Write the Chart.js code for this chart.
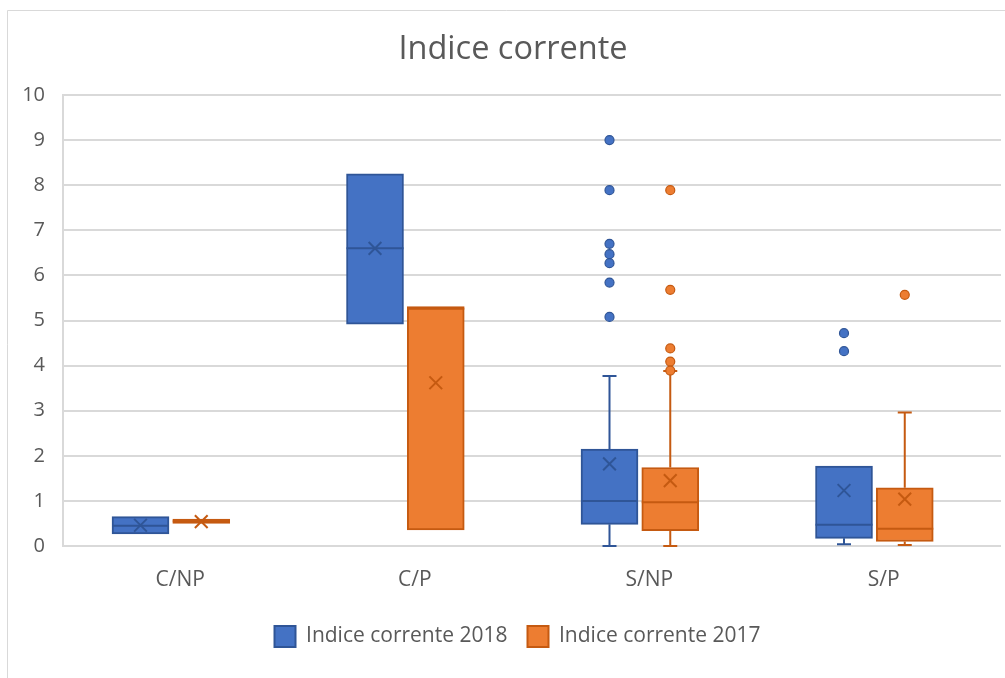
<!DOCTYPE html>
<html>
<head>
<meta charset="utf-8">
<script src="https://cdn.jsdelivr.net/npm/chart.js@4.4.1/dist/chart.umd.min.js"></script>
<style>
  html, body { margin: 0; padding: 0; background: #ffffff; }
  #c { display: block; }
</style>
</head>
<body>
<canvas id="c" width="1005" height="678"></canvas>
<script>
// ---------- DATA ----------
const categories = ['C/NP', 'C/P', 'S/NP', 'S/P'];
const seriesNames = ['Indice corrente 2018', 'Indice corrente 2017'];
const yTicks = [0, 1, 2, 3, 4, 5, 6, 7, 8, 9, 10];

// Indice corrente 2018
const min2018    = [0.27, 4.92, 0.00, 0.04];
const q1_2018    = [0.27, 4.92, 0.48, 0.17];
const median2018 = [0.45, 6.60, 1.00, 0.47];
const q3_2018    = [0.65, 8.25, 2.15, 1.77];
const max2018    = [0.65, 8.25, 3.77, 1.77];
const mean2018   = [0.46, 6.60, 1.82, 1.23];
const outliers2018 = [[], [], [9.00, 7.89, 6.70, 6.47, 6.27, 5.84, 5.08], [4.72, 4.32]];

// Indice corrente 2017
const min2017    = [0.50, 0.355, 0.00, 0.02];
const q1_2017    = [0.50, 0.355, 0.34, 0.10];
const median2017 = [0.55, 5.26, 0.97, 0.38];
const q3_2017    = [0.595, 5.31, 1.74, 1.29];
const max2017    = [0.595, 5.31, 3.88, 2.96];
const mean2017   = [0.54, 3.62, 1.45, 1.04];
const outliers2017 = [[], [], [7.89, 5.68, 4.38, 4.09, 3.89], [5.57]];

// ---------- STYLE / LAYOUT ----------
const FONT = "'Open Sans', 'Noto Sans', sans-serif";
const TEXT = '#595959';
const GRID = '#D9D9D9';
const fill2018 = '#4472C4', line2018 = '#2F5597';
const fill2017 = '#ED7D31', line2017 = '#C55A11';
const OFF2018 = -0.1695, OFF2017 = 0.0896;   // group offset within each category
const BOX_W = 57;

const series = [
  { name: seriesNames[0], min: min2018, q1: q1_2018, med: median2018, q3: q3_2018, max: max2018,
    mean: mean2018, out: outliers2018, off: OFF2018, fill: fill2018, line: line2018 },
  { name: seriesNames[1], min: min2017, q1: q1_2017, med: median2017, q3: q3_2017, max: max2017,
    mean: mean2017, out: outliers2017, off: OFF2017, fill: fill2017, line: line2017 }
];

const datasets = [];
series.forEach((s, k) => {
  datasets.push({
    type: 'bar',
    label: s.name,
    data: categories.map((c, i) => ({ x: i + s.off, y: [s.q1[i], s.q3[i]] })),
    backgroundColor: s.fill,
    borderColor: s.line,
    borderWidth: 2,
    borderSkipped: false,
    barThickness: BOX_W,
    grouped: false,
    order: 3,
    _box: k
  });
});
series.forEach((s) => {
  datasets.push({
    type: 'scatter',
    label: s.name + ' mean',
    data: categories.map((c, i) => ({ x: i + s.off, y: s.mean[i] })),
    pointStyle: 'crossRot',
    radius: 9,
    borderWidth: 2,
    borderColor: s.line,
    backgroundColor: s.line,
    order: 1
  });
  const pts = [];
  s.out.forEach((arr, i) => arr.forEach(v => pts.push({ x: i + s.off, y: v })));
  datasets.push({
    type: 'scatter',
    label: s.name + ' outliers',
    data: pts,
    pointStyle: 'circle',
    radius: 4.5,
    borderWidth: 1.2,
    borderColor: s.line,
    backgroundColor: s.fill,
    order: 2
  });
});

const frame = {
  id: 'frame',
  afterLayout(chart) {
    // Excel centres title/legend on the (wider, cropped) chart object
    chart.titleBlock.left += 4;
    chart.legend.left += 13;
  },
  beforeDraw(chart) {
    const ctx = chart.ctx;
    ctx.save();
    ctx.fillStyle = '#ffffff';
    ctx.fillRect(0, 0, chart.width, chart.height);
    ctx.strokeStyle = GRID;
    ctx.lineWidth = 1;
    ctx.beginPath();
    ctx.moveTo(7.5, chart.height + 5);
    ctx.lineTo(7.5, 10.5);
    ctx.lineTo(chart.width + 5, 10.5);
    ctx.stroke();
    ctx.restore();
  }
};

const boxParts = {
  id: 'boxParts',
  beforeDatasetsDraw(chart) {
    const ctx = chart.ctx, y = chart.scales.y;
    series.forEach((s, k) => {
      const meta = chart.getDatasetMeta(k);
      ctx.save();
      ctx.strokeStyle = s.line;
      ctx.lineWidth = 2;
      meta.data.forEach((el, i) => {
        const cx = el.x;
        const segs = [[s.q3[i], s.max[i]], [s.q1[i], s.min[i]]];
        segs.forEach(([a, b]) => {
          if (a === b) return;
          const ya = y.getPixelForValue(a), yb = y.getPixelForValue(b);
          ctx.beginPath();
          ctx.moveTo(cx, ya); ctx.lineTo(cx, yb);
          ctx.moveTo(cx - 7, yb); ctx.lineTo(cx + 7, yb);
          ctx.stroke();
        });
      });
      ctx.restore();
    });
  },
  afterDatasetDraw(chart, args) {
    const ds = chart.data.datasets[args.index];
    if (ds._box === undefined) return;
    const s = series[ds._box];
    const ctx = chart.ctx, y = chart.scales.y;
    ctx.save();
    ctx.strokeStyle = s.line;
    ctx.lineWidth = 2;
    args.meta.data.forEach((el, i) => {
      const ym = y.getPixelForValue(s.med[i]);
      ctx.beginPath();
      ctx.moveTo(el.x - el.width / 2, ym);
      ctx.lineTo(el.x + el.width / 2, ym);
      ctx.stroke();
    });
    ctx.restore();
  }
};

new Chart(document.getElementById('c'), {
  data: { datasets },
  plugins: [frame, boxParts],
  options: {
    responsive: false,
    animation: false,
    devicePixelRatio: 1,
    layout: { autoPadding: false, padding: { left: 21, right: 4, top: 0, bottom: 21 } },
    plugins: {
      title: {
        display: true,
        text: 'Indice corrente',
        color: TEXT,
        font: { family: FONT, size: 32.5, weight: 'normal' },
        padding: { top: 30, bottom: 26 }
      },
      legend: {
        position: 'bottom',
        labels: {
          filter: (item) => item.datasetIndex < 2,
          color: TEXT,
          font: { family: FONT, size: 21 },
          boxWidth: 21,
          boxHeight: 21,
          padding: 20
        }
      },
      tooltip: { enabled: false }
    },
    scales: {
      x: {
        type: 'linear',
        offset: false,
        min: -0.5,
        max: 3.5,
        afterBuildTicks: (scale) => { scale.ticks = categories.map((c, i) => ({ value: i })); },
        afterFit: (scale) => { scale.height = 60; scale.paddingLeft = 0; scale.paddingRight = 0; },
        ticks: {
          callback: (v) => categories[v] ?? '',
          color: TEXT,
          font: { family: FONT, size: 21 },
          padding: 21,
          maxRotation: 0
        },
        grid: { display: false, drawTicks: false },
        border: { display: false }
      },
      y: {
        min: 0,
        max: 10,
        afterBuildTicks: (scale) => { scale.ticks = yTicks.map(v => ({ value: v })); },
        afterFit: (scale) => { scale.width = 42; },
        ticks: {
          color: TEXT,
          font: { family: FONT, size: 20 },
          padding: 18
        },
        grid: { color: GRID, lineWidth: 2, drawTicks: false },
        border: { display: true, color: GRID, width: 2 }
      }
    }
  }
});
</script>
</body>
</html>
